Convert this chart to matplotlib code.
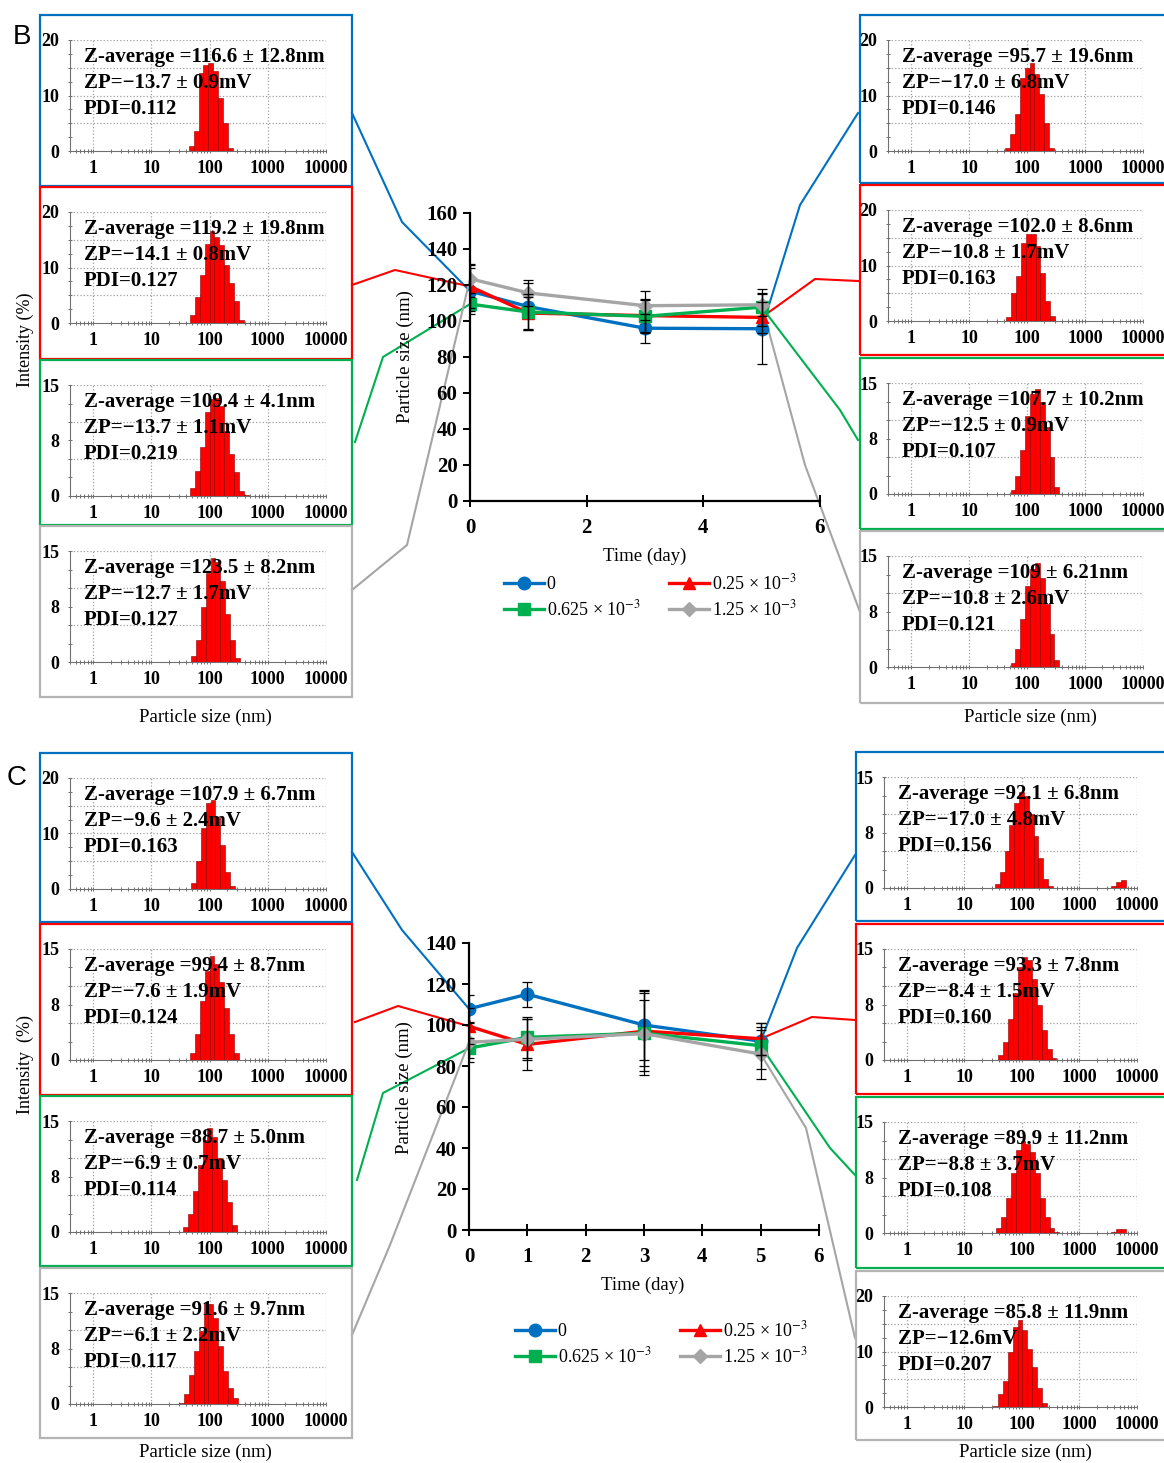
import numpy as np
import matplotlib
matplotlib.use('Agg')
import matplotlib.pyplot as plt
from matplotlib.lines import Line2D
from matplotlib.patches import Rectangle
from matplotlib.ticker import LogLocator, NullFormatter, FixedLocator

plt.rcParams['font.family'] = ['Liberation Serif', 'DejaVu Serif']
plt.rcParams['mathtext.fontset'] = 'stix'

# ---- data ----
days = [0, 1, 3, 5]
conc_labels = ['0', r'0.25 × 10$^{−3}$', r'0.625 × 10$^{−3}$', r'1.25 × 10$^{−3}$']

# panel B, particle size (nm) vs time
B_size_0 = [116.6, 108.0, 96.0, 95.7]
B_size_025 = [119.2, 104.4, 103.0, 102.0]
B_size_0625 = [109.4, 105.0, 102.6, 107.7]
B_size_125 = [123.5, 115.6, 108.5, 109.0]
B_err_0 = [12.8, 13.0, 8.0, 19.6]
B_err_025 = [12.0, 9.0, 9.0, 8.6]
B_err_0625 = [4.1, 10.0, 9.0, 10.2]
B_err_125 = [8.2, 7.0, 8.0, 6.2]

# panel C
C_size_0 = [107.9, 115.0, 100.0, 92.1]
C_size_025 = [99.4, 90.5, 97.0, 93.3]
C_size_0625 = [88.7, 94.0, 96.0, 89.9]
C_size_125 = [91.6, 93.0, 95.8, 85.8]
C_err_0 = [6.7, 6.0, 17.0, 6.8]
C_err_025 = [8.7, 12.5, 19.5, 7.8]
C_err_0625 = [5.0, 10.0, 16.0, 11.2]
C_err_125 = [9.7, 10.0, 20.0, 11.9]

# DLS insets (top to bottom: 0, 0.25, 0.625, 1.25 x10^-3)
B_left_z = ['116.6 ± 12.8', '119.2 ± 19.8', '109.4 ± 4.1', '123.5 ± 8.2']
B_left_zp = ['−13.7 ± 0.9', '−14.1 ± 0.8', '−13.7 ± 1.1', '−12.7 ± 1.7']
B_left_pdi = ['0.112', '0.127', '0.219', '0.127']
B_right_z = ['95.7 ± 19.6', '102.0 ± 8.6', '107.7 ± 10.2', '109 ± 6.21']
B_right_zp = ['−17.0 ± 6.8', '−10.8 ± 1.7', '−12.5 ± 0.9', '−10.8 ± 2.6']
B_right_pdi = ['0.146', '0.163', '0.107', '0.121']
C_left_z = ['107.9 ± 6.7', '99.4 ± 8.7', '88.7 ± 5.0', '91.6 ± 9.7']
C_left_zp = ['−9.6 ± 2.4', '−7.6 ± 1.9', '−6.9 ± 0.7', '−6.1 ± 2.2']
C_left_pdi = ['0.163', '0.124', '0.114', '0.117']
C_right_z = ['92.1 ± 6.8', '93.3 ± 7.8', '89.9 ± 11.2', '85.8 ± 11.9']
C_right_zp = ['−17.0 ± 4.8', '−8.4 ± 1.5', '−8.8 ± 3.7', '−12.6']
C_right_pdi = ['0.156', '0.160', '0.108', '0.207']

B_left_ymax = [20, 20, 15, 15]
B_right_ymax = [20, 20, 15, 15]
C_left_ymax = [20, 15, 15, 15]
C_right_ymax = [15, 15, 15, 20]

# size distributions: first bin edge (nm) and intensity (%) per bin
B_left_start = [44, 46, 46, 48]
B_left_hist = [
    [0.9, 3.6, 14.0, 15.5, 15.8, 14.5, 9.5, 5.0, 0.5],
    [1.5, 4.6, 8.7, 14.3, 16.5, 15.5, 14.0, 10.4, 7.2, 4.0, 0.6],
    [1.1, 3.4, 6.6, 11.3, 13.1, 13.3, 12.2, 8.8, 5.7, 3.2, 0.7, 0.2],
    [0.8, 3.0, 7.5, 12.0, 14.0, 13.5, 11.0, 6.5, 3.0, 0.6],
]
B_right_start = [42, 44, 52, 52]
B_right_hist = [
    [0.6, 3.1, 6.7, 13.2, 15.0, 15.9, 13.8, 10.2, 5.1, 0.6],
    [0.8, 5.1, 8.1, 14.1, 15.6, 15.6, 13.5, 8.7, 3.6, 0.9],
    [0.5, 2.5, 6.0, 10.5, 13.5, 14.2, 12.5, 9.0, 5.0, 1.0],
    [0.5, 2.5, 6.5, 11.0, 13.2, 14.0, 12.0, 8.5, 4.5, 1.0],
]
C_left_start = [48, 46, 35, 30]
C_left_hist = [
    [1.0, 5.0, 11.0, 15.5, 16.0, 13.0, 8.0, 3.0, 0.5],
    [1.0, 3.5, 8.0, 12.0, 14.0, 13.0, 10.5, 7.0, 3.5, 1.0],
    [0.7, 2.5, 5.5, 9.0, 12.5, 14.0, 12.8, 10.0, 7.0, 4.0, 1.0],
    [0.2, 1.3, 3.9, 7.1, 9.9, 13.7, 13.5, 11.6, 7.8, 4.5, 2.2, 0.8],
]
C_right_start = [34, 39, 36, 32]
C_right_hist = [
    [0.6, 2.2, 5.0, 8.5, 11.5, 13.0, 12.5, 10.0, 7.0, 4.0, 1.2, 0.3],
    [0.7, 2.5, 5.5, 9.0, 12.5, 13.9, 13.5, 11.0, 7.5, 4.0, 1.5, 0.3],
    [0.7, 2.2, 4.7, 8.1, 11.2, 12.5, 12.0, 11.0, 8.1, 4.7, 2.2, 0.7, 0.2],
    [0.2, 2.4, 4.7, 9.9, 14.4, 15.6, 13.8, 10.5, 7.2, 3.5, 0.8],
]
C_right_tail_start = 3600
C_right_tail = [[0.3, 0.8, 1.1], [], [0.2, 0.5, 0.6], []]

# ---- layout / style ----
W, H = 1164, 1463
fig = plt.figure(figsize=(W / 100, H / 100), dpi=100)

BLUE, RED, GREEN, GRAY = '#0070C0', '#FF0000', '#00B050', '#A5A5A5'
SERIES_COLORS = [BLUE, RED, GREEN, GRAY]
BOX_COLORS = [BLUE, RED, GREEN, '#B4B4B4']
MARKERS = ['o', '^', 's', 'D']
MSIZES = [9, 9, 8.5, 7]
BIN = 0.084  # log10 width of one size bin


def add_box(x0, y0, x1, y1, color):
    fig.add_artist(Rectangle((x0 / W, 1 - y1 / H), (x1 - x0) / W, (y1 - y0) / H,
                             transform=fig.transFigure, fill=False,
                             edgecolor=color, linewidth=1.6, zorder=1))


def inset(x0, y0, x1, y1, color, ax_x0, ax_x1, ymax, start, heights,
          z, zp, pdi, tail=None):
    add_box(x0, y0, x1, y1, color)
    ax = fig.add_axes([ax_x0 / W, 1 - (y0 + 136) / H, (ax_x1 - ax_x0) / W, 111 / H])
    edges = start * 10 ** (BIN * np.arange(len(heights) + 1))
    ax.bar(edges[:-1], heights, width=np.diff(edges), align='edge',
           color='#FF0000', edgecolor='#8A0000', linewidth=0.4, zorder=3)
    if tail:
        te = C_right_tail_start * 10 ** (BIN * np.arange(len(tail) + 1))
        ax.bar(te[:-1], tail, width=np.diff(te), align='edge',
               color='#FF0000', edgecolor='#8A0000', linewidth=0.4, zorder=3)
    ax.set_xscale('log')
    ax.set_xlim(0.4, 10000)
    ax.set_ylim(0, ymax)
    ax.set_xticks([1, 10, 100, 1000, 10000])
    ax.set_xticklabels(['1', '10', '100', '1000', '10000'], fontweight='bold', fontsize=13)
    ax.xaxis.set_minor_locator(LogLocator(subs=np.arange(2, 10)))
    ax.xaxis.set_minor_formatter(NullFormatter())
    if ymax == 20:
        ax.set_yticks([0, 10, 20])
        ax.set_yticklabels(['0', '10', '20'], fontweight='bold', fontsize=13)
        grid_y = [5, 10, 15, 20]
    else:
        ax.set_yticks([0, 7.5, 15])
        ax.set_yticklabels(['0', '8', '15'], fontweight='bold', fontsize=13)
        grid_y = [5, 10, 15]
    ax.yaxis.set_minor_locator(FixedLocator(np.arange(0, ymax + 0.1, 2.5)))
    for gy in grid_y:
        ax.axhline(gy, color='#A0A0A0', linestyle=':', linewidth=0.9, zorder=1)
    for gx in [1, 10, 100, 1000, 10000]:
        ax.axvline(gx, color='#A0A0A0', linestyle=':', linewidth=0.9, zorder=1)
    for s in ['top', 'right']:
        ax.spines[s].set_visible(False)
    for s in ['left', 'bottom']:
        ax.spines[s].set_color('#707070')
    ax.tick_params(which='both', direction='inout', length=3, width=0.7, color='#707070')
    ax.tick_params(axis='y', pad=6)
    ax.tick_params(axis='x', pad=5)
    for txt, yy in zip(['Z-average =' + z + 'nm', 'ZP=' + zp + 'mV', 'PDI=' + pdi],
                       [0.85, 0.615, 0.375]):
        ax.text(0.055, yy, txt, transform=ax.transAxes, fontsize=15, fontweight='bold',
                va='center', zorder=5)
    return ax


def main_plot(x0, y0, x1, y1, ymax, xticks, sizes, errs):
    ax = fig.add_axes([x0 / W, 1 - y1 / H, (x1 - x0) / W, (y1 - y0) / H])
    ax.set_facecolor('none')
    lines = []
    for vals, err, col, mk, ms in zip(sizes, errs, SERIES_COLORS, MARKERS, MSIZES):
        ln, = ax.plot(days, vals, color=col, marker=mk, markersize=ms,
                      linewidth=2.4, zorder=3)
        lines.append(ln)
    for vals, err in zip(sizes, errs):
        ax.errorbar(days, vals, yerr=err, fmt='none', ecolor='black',
                    elinewidth=0.9, capsize=3.5, capthick=0.9, zorder=4)
    ax.set_xlim(0, 6)
    ax.set_ylim(0, ymax)
    ax.set_xticks(xticks)
    ax.set_yticks(np.arange(0, ymax + 1, 20))
    for lab in ax.get_xticklabels() + ax.get_yticklabels():
        lab.set_fontweight('bold')
        lab.set_fontsize(15)
    for s in ['top', 'right']:
        ax.spines[s].set_visible(False)
    for s in ['left', 'bottom']:
        ax.spines[s].set_linewidth(1.6)
    ax.tick_params(axis='y', direction='out', length=5, width=1.4, pad=4)
    ax.tick_params(axis='x', direction='inout', length=8, width=1.4, pad=8)
    return ax, lines


def to_px(ax, x, y):
    dx, dy = ax.transData.transform((x, y))
    return dx, H - dy


def connector(ax, day, val, kink, end, color):
    px, py = to_px(ax, day, val)
    xs = np.array([px, kink[0], end[0]])
    ys = np.array([py, kink[1], end[1]])
    fig.add_artist(Line2D(xs / W, 1 - ys / H, transform=fig.transFigure,
                          color=color, linewidth=1.5, zorder=-1))


def legend(ax, lines, x, y):
    order = [0, 2, 1, 3]
    fig.legend([lines[i] for i in order], [conc_labels[i] for i in order],
               loc='upper left', bbox_to_anchor=(x / W, 1 - y / H), ncol=2,
               frameon=False, fontsize=13, handlelength=2.2, handletextpad=0.15,
               columnspacing=1.6, labelspacing=0.35, borderaxespad=0)


def panel(left_boxes, right_boxes, lx, rx, l_ax, r_ax, zl, zpl, pdil, zr, zpr, pdir,
          yml, ymr, sl, hl, sr, hr, tails):
    for i in range(4):
        inset(lx[0], left_boxes[i][0], lx[1], left_boxes[i][1], BOX_COLORS[i],
              l_ax[0], l_ax[1], yml[i], sl[i], hl[i], zl[i], zpl[i], pdil[i])
        inset(rx[0], right_boxes[i][0], rx[1], right_boxes[i][1], BOX_COLORS[i],
              r_ax[0], r_ax[1], ymr[i], sr[i], hr[i], zr[i], zpr[i], pdir[i],
              tails[i] if tails else None)


# ---- panel B ----
B_left_boxes = [(15, 186), (187, 359), (360, 525), (526, 697)]
B_right_boxes = [(15, 183), (185, 355), (358, 529), (531, 703)]
panel(B_left_boxes, B_right_boxes, (40, 352), (860, 1190), (70, 326), (888, 1143),
      B_left_z, B_left_zp, B_left_pdi, B_right_z, B_right_zp, B_right_pdi,
      B_left_ymax, B_right_ymax, B_left_start, B_left_hist, B_right_start, B_right_hist, None)

axB, linesB = main_plot(470, 213, 820, 501, 160, [0, 2, 4, 6],
                        [B_size_0, B_size_025, B_size_0625, B_size_125],
                        [B_err_0, B_err_025, B_err_0625, B_err_125])
B_left_conn = [((352, 113), (402, 222)), ((352, 285), (395, 270)),
               ((355, 442), (383, 357)), ((352, 590), (407, 545))]
B_right_conn = [((858, 113), (800, 205)), ((858, 281), (815, 279)),
                ((858, 440), (840, 410)), ((860, 612), (805, 465))]
for i, vals in enumerate([B_size_0, B_size_025, B_size_0625, B_size_125]):
    connector(axB, days[0], vals[0], B_left_conn[i][1], B_left_conn[i][0], SERIES_COLORS[i])
    connector(axB, days[-1], vals[-1], B_right_conn[i][1], B_right_conn[i][0], SERIES_COLORS[i])
legend(axB, linesB, 497, 566)
fig.text(405 / W, 1 - 357 / H, 'Particle size (nm)', rotation=90, ha='center', va='center', fontsize=13.5)
fig.text(645 / W, 1 - 556 / H, 'Time (day)', ha='center', va='center', fontsize=13.5)

# ---- panel C ----
C_left_boxes = [(753, 922), (924, 1095), (1096, 1266), (1268, 1438)]
C_right_boxes = [(752, 921), (924, 1094), (1097, 1268), (1271, 1440)]
panel(C_left_boxes, C_right_boxes, (40, 352), (856, 1190), (70, 326), (884, 1137),
      C_left_z, C_left_zp, C_left_pdi, C_right_z, C_right_zp, C_right_pdi,
      C_left_ymax, C_right_ymax, C_left_start, C_left_hist, C_right_start, C_right_hist,
      C_right_tail)

axC, linesC = main_plot(469, 943, 819, 1230, 140, [0, 1, 2, 3, 4, 5, 6],
                        [C_size_0, C_size_025, C_size_0625, C_size_125],
                        [C_err_0, C_err_025, C_err_0625, C_err_125])
C_left_conn = [((352, 852), (402, 930)), ((355, 1022), (398, 1006)),
               ((357, 1180), (383, 1093)), ((352, 1335), (390, 1245))]
C_right_conn = [((855, 855), (797, 948)), ((855, 1020), (812, 1017)),
                ((855, 1175), (830, 1148)), ((855, 1338), (806, 1128))]
for i, vals in enumerate([C_size_0, C_size_025, C_size_0625, C_size_125]):
    connector(axC, days[0], vals[0], C_left_conn[i][1], C_left_conn[i][0], SERIES_COLORS[i])
    connector(axC, days[-1], vals[-1], C_right_conn[i][1], C_right_conn[i][0], SERIES_COLORS[i])
legend(axC, linesC, 508, 1313)
fig.text(404 / W, 1 - 1088 / H, 'Particle size (nm)', rotation=90, ha='center', va='center', fontsize=13.5)
fig.text(643 / W, 1 - 1285 / H, 'Time (day)', ha='center', va='center', fontsize=13.5)

# ---- shared labels ----
fig.text(22 / W, 1 - 37 / H, 'B', family='Liberation Sans', fontsize=20, ha='center', va='center')
fig.text(17 / W, 1 - 778 / H, 'C', family='Liberation Sans', fontsize=20, ha='center', va='center')
fig.text(25 / W, 1 - 340 / H, 'Intensity (%)', rotation=90, ha='center', va='center', fontsize=13)
fig.text(25 / W, 1 - 1065 / H, 'Intensity  (%)', rotation=90, ha='center', va='center', fontsize=13)
for x, y in [(205, 717), (1030, 717), (205, 1452), (1025, 1452)]:
    fig.text(x / W, 1 - y / H, 'Particle size (nm)', ha='center', va='center', fontsize=13.5)

fig.savefig('out.png', dpi=100)
